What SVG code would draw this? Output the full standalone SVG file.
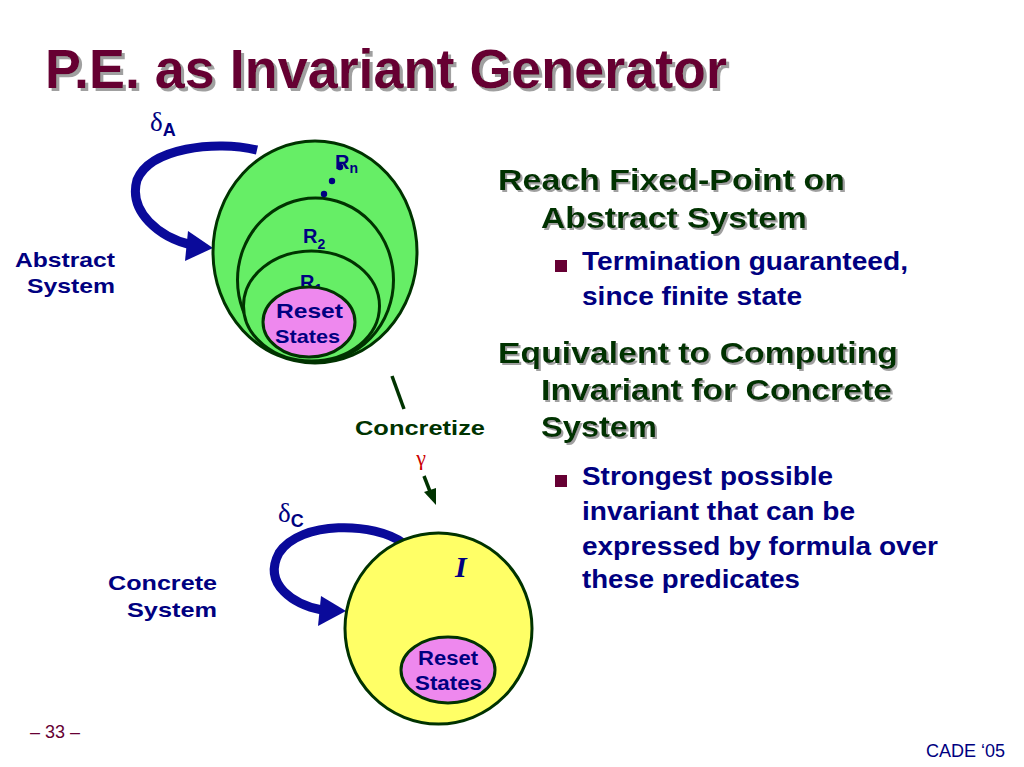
<svg xmlns="http://www.w3.org/2000/svg" width="1024" height="767" viewBox="0 0 1024 767">
<defs>
<style>
.t{font-family:"Liberation Sans",Arial,sans-serif;font-weight:bold}
.n{font-family:"Liberation Sans Narrow","Liberation Sans",Arial,sans-serif}
.navy{fill:#000080}
.head{fill:#003300}
.grn{fill:#66ee66;stroke:#003300;stroke-width:3}
.pink{fill:#ee88ee;stroke:#003300;stroke-width:3}
.yel{fill:#ffff66;stroke:#003300;stroke-width:3}
.loop{fill:none;stroke:#0a0a9a;stroke-width:9}
.lh{fill:#0a0a9a}
.cz{stroke:#003300;stroke-width:3.5;fill:none}
</style>
<filter id="sh3" x="-5%" y="-30%" width="115%" height="160%">
<feOffset in="SourceAlpha" dx="3" dy="3" result="o"/>
<feFlood flood-color="#a0a0a0"/>
<feComposite in2="o" operator="in" result="s"/>
<feMerge><feMergeNode in="s"/><feMergeNode in="SourceGraphic"/></feMerge>
</filter>
<filter id="sh2" x="-5%" y="-30%" width="115%" height="160%">
<feOffset in="SourceAlpha" dx="2" dy="2" result="o"/>
<feFlood flood-color="#a0a0a0"/>
<feComposite in2="o" operator="in" result="s"/>
<feMerge><feMergeNode in="s"/><feMergeNode in="SourceGraphic"/></feMerge>
</filter>
</defs>
<rect width="1024" height="767" fill="#ffffff"/>

<g id="title">
<text class="n" x="45" y="88" font-size="56" font-weight="bold" fill="#660033" filter="url(#sh3)" textLength="682" lengthAdjust="spacingAndGlyphs">P.E. as Invariant Generator</text>
</g>

<g id="connectors">
<path class="loop" d="M257,150 C215,140 150,148 137,180 C128,212 160,238 192,245"/>
<polygon class="lh" points="213,248 188,231 185,261"/>
<path class="loop" d="M403,543 C375,522 300,520 279,553 C262,585 295,605 322,610"/>
<polygon class="lh" points="346,611 321,596 318,626"/>
<line class="cz" x1="392" y1="376" x2="404" y2="409"/>
<line class="cz" x1="424" y1="476" x2="431" y2="494"/>
<polygon class="head" points="436,505 424,492 436,488"/>
</g>

<g id="abstract-system">
<ellipse class="grn" cx="315" cy="252" rx="102" ry="111"/>
<ellipse class="grn" cx="315.5" cy="280" rx="78" ry="82"/>
<ellipse class="grn" cx="311.5" cy="306" rx="68" ry="55"/>
<text class="t navy" x="300" y="289" font-size="20">R<tspan font-size="14" dy="5">1</tspan></text>
<text class="t navy" x="303" y="243" font-size="20">R<tspan font-size="14" dy="6">2</tspan></text>
<text class="t navy" x="335" y="169" font-size="20">R<tspan font-size="14" dy="4">n</tspan></text>
<circle class="navy" cx="324" cy="194" r="3.2"/>
<circle class="navy" cx="332" cy="181" r="3.2"/>
<circle class="navy" cx="340" cy="167" r="3.2"/>
</g>

<g id="abstract-reset">
<ellipse class="pink" cx="309" cy="322" rx="46" ry="35"/>
<text class="t navy" x="276" y="318" font-size="21" textLength="67" lengthAdjust="spacingAndGlyphs">Reset</text>
<text class="t navy" x="275" y="343" font-size="19" textLength="65" lengthAdjust="spacingAndGlyphs">States</text>
</g>

<g id="abstract-label">
<text class="t navy" x="15" y="267" font-size="21" textLength="100" lengthAdjust="spacingAndGlyphs">Abstract</text>
<text class="t navy" x="27" y="293" font-size="21" textLength="88" lengthAdjust="spacingAndGlyphs">System</text>
<text x="150" y="131" font-size="27" fill="#000080" font-family="'Liberation Serif',serif">δ<tspan class="t" font-size="18" dy="5">A</tspan></text>
</g>

<g id="concretize">
<text class="t" x="355" y="435" font-size="21" fill="#003300" textLength="130" lengthAdjust="spacingAndGlyphs">Concretize</text>
<text x="421" y="465" font-size="22" fill="#cc0000" text-anchor="middle" font-family="'Liberation Serif',serif">γ</text>
</g>

<g id="concrete-system">
<ellipse class="yel" cx="438.5" cy="628.5" rx="93.5" ry="95.5"/>
<text x="455" y="577" font-size="30" fill="#000080" font-style="italic" font-weight="bold" font-family="'Liberation Serif',serif">I</text>
</g>

<g id="concrete-reset">
<ellipse class="pink" cx="448" cy="670" rx="47" ry="33"/>
<text class="t navy" x="418" y="665" font-size="20" textLength="60" lengthAdjust="spacingAndGlyphs">Reset</text>
<text class="t navy" x="415" y="690" font-size="20" textLength="67" lengthAdjust="spacingAndGlyphs">States</text>
</g>

<g id="concrete-label">
<text class="t navy" x="108" y="590" font-size="21" textLength="109" lengthAdjust="spacingAndGlyphs">Concrete</text>
<text class="t navy" x="127" y="617" font-size="21" textLength="90" lengthAdjust="spacingAndGlyphs">System</text>
<text x="278" y="522" font-size="27" fill="#000080" font-family="'Liberation Serif',serif">δ<tspan class="t" font-size="18" dy="5">C</tspan></text>
</g>

<g id="bullets">
<g font-size="30" class="t head" filter="url(#sh2)">
<text x="498" y="190" textLength="347" lengthAdjust="spacingAndGlyphs">Reach Fixed-Point on</text>
<text x="541" y="228" textLength="266" lengthAdjust="spacingAndGlyphs">Abstract System</text>
<text x="498" y="363" textLength="400" lengthAdjust="spacingAndGlyphs">Equivalent to Computing</text>
<text x="541" y="400" textLength="351" lengthAdjust="spacingAndGlyphs">Invariant for Concrete</text>
<text x="541" y="437" textLength="116" lengthAdjust="spacingAndGlyphs">System</text>
</g>
<rect x="555" y="260" width="12" height="12" fill="#660033"/>
<rect x="555" y="475" width="12" height="12" fill="#660033"/>
<g class="t navy" font-size="25">
<text x="582" y="270" textLength="326" lengthAdjust="spacingAndGlyphs">Termination guaranteed,</text>
<text x="582" y="305" textLength="220" lengthAdjust="spacingAndGlyphs">since finite state</text>
<text x="582" y="485" textLength="251" lengthAdjust="spacingAndGlyphs">Strongest possible</text>
<text x="582" y="520" textLength="273" lengthAdjust="spacingAndGlyphs">invariant that can be</text>
<text x="582" y="555" textLength="356" lengthAdjust="spacingAndGlyphs">expressed by formula over</text>
<text x="582" y="588" textLength="218" lengthAdjust="spacingAndGlyphs">these predicates</text>
</g>
</g>

<g id="footer">
<text class="n" x="30" y="738" font-size="18" fill="#660033">– 33 –</text>
<text class="n" x="1005" y="757" font-size="18" fill="#000080" text-anchor="end">CADE ‘05</text>
</g>
</svg>
